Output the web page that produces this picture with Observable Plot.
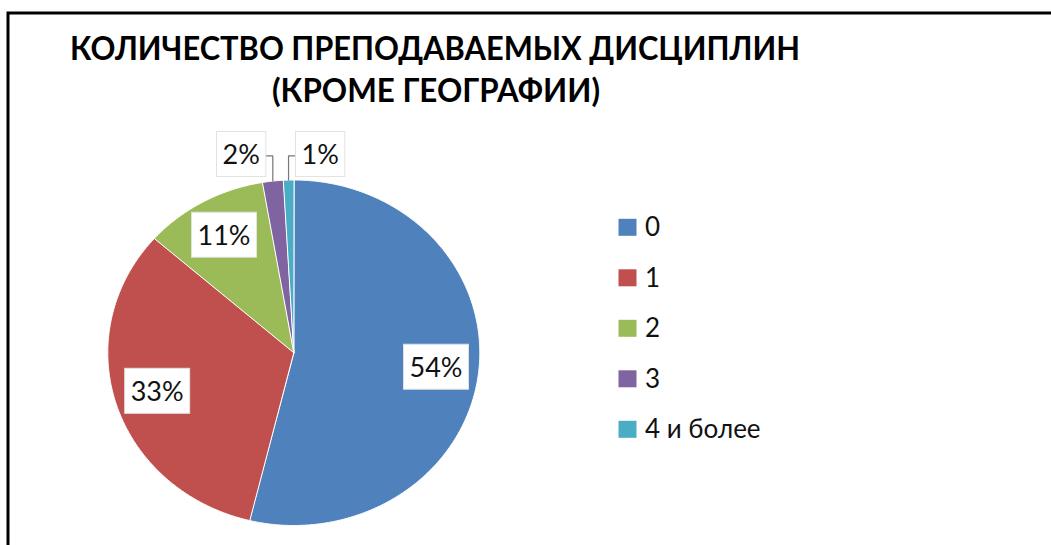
<!DOCTYPE html>
<html>
<head>
<meta charset="utf-8">
<script src="https://cdn.jsdelivr.net/npm/d3@7"></script>
<script src="https://cdn.jsdelivr.net/npm/@observablehq/plot@0.6"></script>
<style>
  html, body { margin: 0; padding: 0; background: #fff; }
  #chart { position: relative; width: 1051px; height: 545px; overflow: hidden; }
</style>
</head>
<body>
<div id="chart"></div>
<script>
// ---- data ----
const titleLines = ["КОЛИЧЕСТВО ПРЕПОДАВАЕМЫХ ДИСЦИПЛИН", "(КРОМЕ ГЕОГРАФИИ)"];
const categories = ["0", "1", "2", "3", "4 и более"];
const shares = [53.8, 32.7, 10.8, 1.8, 0.9];
const pctLabels = ["54%", "33%", "11%", "2%", "1%"];
const colors = ["#4F81BD", "#C0504D", "#9BBB59", "#8064A2", "#4BACC6"];

// ---- pie geometry (data space: unit circle) ----
const total = d3.sum(shares);
let acc = 0;
const slices = categories.map((c, i) => {
  const a0 = acc / total * 2 * Math.PI;
  acc += shares[i];
  const a1 = acc / total * 2 * Math.PI;
  return {c, a0, a1, mid: (a0 + a1) / 2, label: pctLabels[i], share: shares[i]};
});

const piePts = slices.flatMap(s => {
  const n = Math.max(2, Math.ceil((s.a1 - s.a0) / (Math.PI / 360)));
  const arr = [{c: s.c, x: 0, y: 0}];
  for (let k = 0; k <= n; k++) {
    const a = s.a0 + (s.a1 - s.a0) * k / n;
    arr.push({c: s.c, x: Math.sin(a), y: Math.cos(a)});
  }
  return arr;
});

const inside = slices.filter(s => s.share >= 5).map(s => ({
  label: s.label, x: 0.77 * Math.sin(s.mid), y: 0.77 * Math.cos(s.mid)
}));
const outsideSlices = slices.filter(s => s.share < 5);
const outside = outsideSlices.map((s, j) => {
  const side = j % 2 === 0 ? -1 : 1;
  const ax = Math.sin(s.mid), ay = Math.cos(s.mid);
  return {label: s.label, c: s.c, side, ax, ay, x: ax + side * 0.17, y: 1.14};
});
const leaders = outside.flatMap(o => [
  {c: o.c, x: o.ax, y: o.ay},
  {c: o.c, x: o.ax, y: o.y},
  {c: o.c, x: o.x - o.side * 0.125, y: o.y}
]);

const FONT = "Lato, 'Open Sans', sans-serif";
const W = 1051, H = 545;
const chart = Plot.plot({
  width: W, height: H,
  marginLeft: 107.3, marginRight: W - 479.3,
  marginTop: 179.5, marginBottom: H - 525,
  x: {domain: [-1, 1], axis: null},
  y: {domain: [-1, 1], axis: null},
  color: {domain: categories, range: colors},
  style: {background: "white"},
  marks: [
    Plot.line(piePts, {x: "x", y: "y", z: "c", fill: "c", stroke: "white", strokeWidth: 1, curve: "linear-closed"}),
    Plot.line(leaders, {x: "x", y: "y", z: "c", stroke: "#777", strokeWidth: 1.2}),
    Plot.text(inside.concat(outside), {x: "x", y: "y", text: "label", fontSize: 27, fontFamily: FONT, fill: "#111"})
  ]
});

const host = document.getElementById("chart");
host.appendChild(chart);

// white label boxes behind pie labels
const svg = d3.select(chart);
svg.selectAll('g[aria-label="text"] text').each(function() {
  const bb = this.getBBox();
  const padX = 6, padY = 6;
  const r = document.createElementNS("http://www.w3.org/2000/svg", "rect");
  r.setAttribute("x", bb.x - padX);
  r.setAttribute("y", bb.y - padY);
  r.setAttribute("width", bb.width + 2 * padX);
  r.setAttribute("height", bb.height + 2 * padY);
  r.setAttribute("fill", "white");
  r.setAttribute("stroke", "#e2e2e2");
  r.setAttribute("stroke-width", "1");
  const t = this.getAttribute("transform");
  if (t) r.setAttribute("transform", t);
  this.parentNode.insertBefore(r, this);
});

// frame
svg.append("path").attr("d", `M8,${H} V13 H${W}`).attr("fill", "none").attr("stroke", "black").attr("stroke-width", 3);

// title
const titleSpecs = [{x: 435, y: 60, len: 730}, {x: 436, y: 102, len: 328}];
titleLines.forEach((t, i) => {
  svg.append("text")
    .attr("x", titleSpecs[i].x).attr("y", titleSpecs[i].y)
    .attr("text-anchor", "middle")
    .attr("textLength", titleSpecs[i].len)
    .attr("lengthAdjust", "spacingAndGlyphs")
    .attr("font-family", FONT)
    .attr("font-weight", "bold")
    .attr("font-size", 33)
    .attr("fill", "#000")
    .text(t);
});

// legend
const lg = svg.append("g").attr("text-anchor", "start");
categories.forEach((c, i) => {
  const cy = 227.3 + 50.5 * i;
  lg.append("rect").attr("x", 618.5).attr("y", cy - 8.5).attr("width", 18).attr("height", 17).attr("fill", colors[i]);
  lg.append("text").attr("x", 645).attr("y", cy + 9)
    .attr("text-anchor", "start")
    .attr("font-family", FONT).attr("font-size", 26).attr("fill", "#111")
    .text(c);
});
</script>
</body>
</html>
